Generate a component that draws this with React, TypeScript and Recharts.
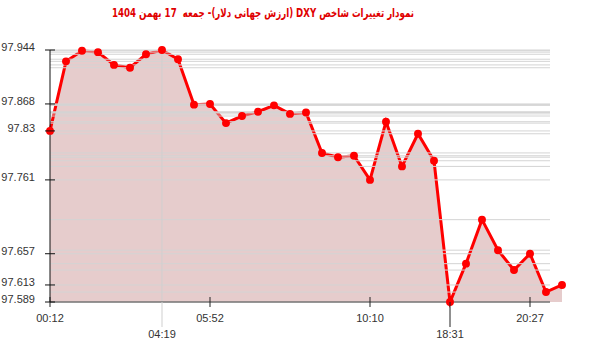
import { ComposedChart, Area, XAxis, YAxis, ReferenceLine } from "recharts"

// DXY intraday values, one point per sample (left to right)
const values = [
  97.83, 97.928, 97.943, 97.941, 97.923, 97.919, 97.938, 97.944, 97.931,
  97.867, 97.868, 97.841, 97.851, 97.857, 97.866, 97.854, 97.856,
  97.799, 97.793, 97.795, 97.761, 97.843, 97.78, 97.826, 97.788,
  97.589, 97.643, 97.705, 97.662, 97.634, 97.657, 97.603, 97.613,
]

const yTicks = [97.589, 97.613, 97.657, 97.761, 97.83, 97.868, 97.944]

// x tick positions (sample index) and their time labels
const tickIdx = [0, 7, 10, 20, 25, 30]
const tickLabels = ["00:12", "04:19", "05:52", "10:10", "18:31", "20:27"]
const lowRow = [false, true, false, false, true, false]

const TITLE = "نمودار تغییرات شاخص DXY (ارزش جهانی دلار)- جمعه  17 بهمن 1404"

const data = values.map((v, i) => ({ i, v }))
const gridValues = Array.from(new Set(values))

const GRID_END = 31.25
const FONT = "'Liberation Sans', Arial, sans-serif"

function TimeTick({ x, y, payload }: any) {
  const k = tickIdx.indexOf(payload.value)
  const low = lowRow[k]
  const isMax = payload.value === 7
  return (
    <g>
      {low ? (
        <line x1={x} x2={x} y1={y} y2={y + 25} stroke={isMax ? "#cfcfcf" : "#222"} />
      ) : (
        <line x1={x} x2={x} y1={y - 5} y2={y + 5} stroke="#222" />
      )}
      <text
        x={x}
        y={low ? y + 36 : y + 20}
        textAnchor="middle"
        fontSize={11}
        fontFamily={FONT}
        fill="#333"
      >
        {tickLabels[k]}
      </text>
    </g>
  )
}

function ValueTick({ x, y, payload }: any) {
  return (
    <g>
      <line x1={x - 5} x2={x + 5} y1={y} y2={y} stroke="#111" />
      <text x={x - 15} y={y + 1} textAnchor="end" fontSize={11} fontFamily={FONT} fill="#333">
        {String(payload.value)}
      </text>
    </g>
  )
}

export default function App() {
  return (
    <div style={{ position: "absolute", left: 0, top: 0, width: 600, height: 352, background: "#fff" }}>
      <div
        dir="rtl"
        style={{
          position: "absolute",
          left: 0,
          top: 6,
          width: 526,
          textAlign: "center",
          whiteSpace: "pre",
          color: "#e00000",
          fontWeight: "bold",
          fontSize: 12,
          fontFamily: "'DejaVu Sans Condensed', 'DejaVu Sans', sans-serif",
          fontStretch: "condensed",
          transform: "scaleX(0.8)",
          transformOrigin: "263px 50%",
        }}
      >
        {TITLE}
      </div>
      <ComposedChart
        width={600}
        height={352}
        data={data}
        margin={{ top: 50, right: 38, bottom: 0, left: 0 }}
      >
        <XAxis
          dataKey="i"
          type="number"
          domain={[0, 32]}
          ticks={tickIdx}
          interval={0}
          axisLine={false}
          tickLine={false}
          tickSize={0}
          tickMargin={0}
          height={50}
          tick={<TimeTick />}
        />
        <YAxis
          type="number"
          domain={[97.589, 97.944]}
          ticks={yTicks}
          interval={0}
          width={50}
          tickLine={false}
          tickSize={0}
          tickMargin={0}
          axisLine={{ stroke: "#111" }}
          tick={<ValueTick />}
        />
        {gridValues.map((g) => (
          <ReferenceLine
            key={g}
            segment={[
              { x: 0, y: g },
              { x: GRID_END, y: g },
            ]}
            stroke="#d4d4d4"
          />
        ))}
        <ReferenceLine x={7} stroke="#cfcfcf" />
        <Area
          dataKey="v"
          type="linear"
          stroke="#ff0000"
          strokeWidth={3}
          fill="#800000"
          fillOpacity={0.2}
          dot={{ r: 3.2, fill: "#ff0000", stroke: "#ff0000", strokeWidth: 1.5, fillOpacity: 1 }}
          activeDot={false}
          isAnimationActive={false}
        />
        <ReferenceLine
          segment={[
            { x: 0, y: 97.589 },
            { x: GRID_END, y: 97.589 },
          ]}
          stroke="#444"
        />
      </ComposedChart>
    </div>
  )
}
